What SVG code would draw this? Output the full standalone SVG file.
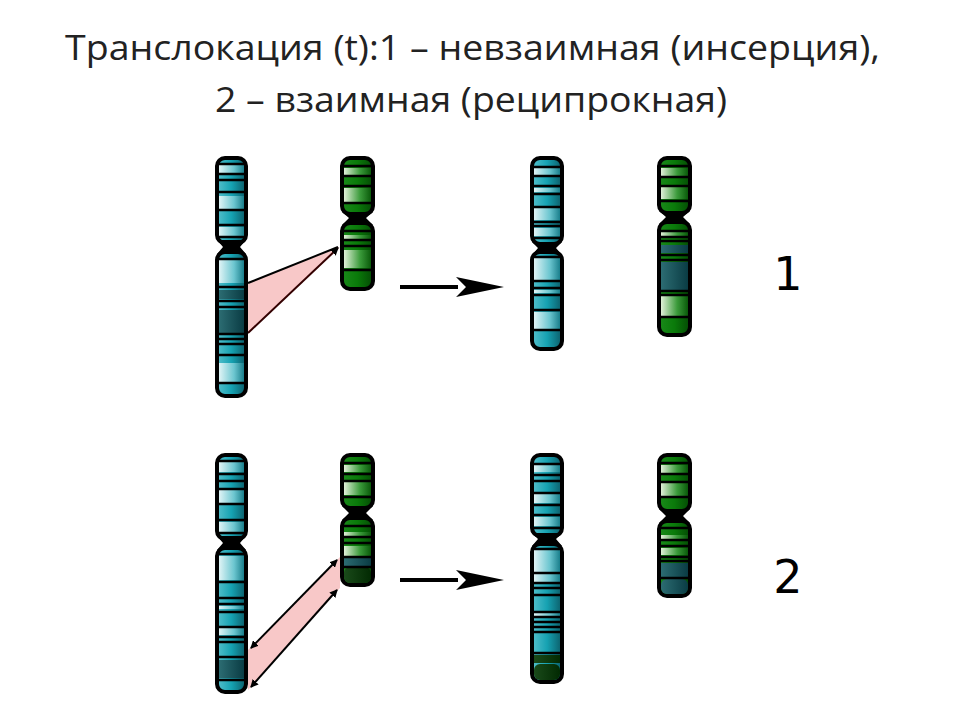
<svg xmlns="http://www.w3.org/2000/svg" width="960" height="720" viewBox="0 0 960 720">
<defs>
<linearGradient id="tl" x1="0" x2="1"><stop offset="0" stop-color="#55c0cc"/><stop offset="0.5" stop-color="#16a2b2"/><stop offset="1" stop-color="#0b5c68"/></linearGradient>
<linearGradient id="tlL" x1="0" x2="1"><stop offset="0" stop-color="#e0f4f6"/><stop offset="0.6" stop-color="#6cc6d0"/><stop offset="1" stop-color="#1a7f8c"/></linearGradient>
<linearGradient id="tlD" x1="0" x2="1"><stop offset="0" stop-color="#2c6c72"/><stop offset="1" stop-color="#0a3c44"/></linearGradient>
<linearGradient id="gr" x1="0" x2="1"><stop offset="0" stop-color="#1a8a1a"/><stop offset="0.5" stop-color="#0a7a0a"/><stop offset="1" stop-color="#044a04"/></linearGradient>
<linearGradient id="grL" x1="0" x2="1"><stop offset="0" stop-color="#e0f0d8"/><stop offset="0.6" stop-color="#3a9a3a"/><stop offset="1" stop-color="#0a5a0a"/></linearGradient>
<linearGradient id="grD" x1="0" x2="1"><stop offset="0" stop-color="#1a4a1a"/><stop offset="1" stop-color="#022a02"/></linearGradient>
<marker id="ah" markerWidth="8" markerHeight="8" refX="7" refY="4" orient="auto" markerUnits="userSpaceOnUse"><path d="M0,0 L8,4 L0,8 Z" fill="#000"/></marker>
<marker id="ahs" markerWidth="8" markerHeight="8" refX="1" refY="4" orient="auto" markerUnits="userSpaceOnUse"><path d="M8,0 L0,4 L8,8 Z" fill="#000"/></marker>
<marker id="big" markerWidth="48" markerHeight="24" refX="2" refY="12" orient="auto" markerUnits="userSpaceOnUse"><path d="M0,2 L48,12 L0,22 L10,12 Z" fill="#000"/></marker>
</defs>
<style>
.arm{stroke:#000;stroke-width:4}
.ln{stroke:#000;stroke-width:2.5}
.cen{fill:#000}
.t{font-family:"Open Sans","Liberation Sans",sans-serif;font-size:34px;fill:#222}
.num{font-family:"DejaVu Sans","Liberation Sans",sans-serif;font-size:46px;fill:#000}
</style>
<text class="t" x="65" y="60" textLength="815" lengthAdjust="spacingAndGlyphs">Транслокация (t):1 – невзаимная (инсерция),</text>
<text class="t" x="215" y="112" textLength="512" lengthAdjust="spacingAndGlyphs">2 – взаимная (реципрокная)</text>

<g id="connectors">
<polygon points="248,283 340,247 248,333" fill="#f8c8c8"/>
<line x1="248" y1="283" x2="338" y2="247" stroke="#000" stroke-width="2"/>
<line x1="248" y1="333" x2="338" y2="248" stroke="#300" stroke-width="2" marker-end="url(#ah)"/>
<polygon points="248,650 340,557 340,588 248,690" fill="#f8c8c8"/>
<line x1="251" y1="648" x2="337" y2="560" stroke="#000" stroke-width="2" marker-start="url(#ahs)" marker-end="url(#ah)"/>
<line x1="251" y1="687" x2="337" y2="590" stroke="#000" stroke-width="2" marker-start="url(#ahs)" marker-end="url(#ah)"/>
<line x1="400" y1="287" x2="458" y2="287" stroke="#000" stroke-width="4" marker-end="url(#big)"/>
<line x1="400" y1="580" x2="458" y2="580" stroke="#000" stroke-width="4" marker-end="url(#big)"/>
</g>

<g id="chrA1">
<rect class="arm" x="217" y="158" width="29" height="85" rx="8" fill="url(#tl)"/>
<rect x="219" y="165" width="25" height="9" fill="url(#tlL)"/>
<rect x="219" y="196" width="25" height="14" fill="url(#tlL)"/>
<rect x="219" y="227" width="25" height="10" fill="url(#tlL)"/>
<path class="ln" d="M219,164H244M219,174H244M219,180H244M219,192H244M219,210H244M219,225H244M219,237H244"/>
<polygon class="cen" points="217,240 246,240 240,247 246,254 217,254 223,247"/>
<rect class="arm" x="217" y="252" width="29" height="144" rx="8" fill="url(#tl)"/>
<rect x="219" y="260" width="25" height="23" fill="url(#tlL)"/>
<rect x="219" y="290" width="25" height="9" fill="url(#tlD)"/>
<rect x="219" y="310" width="25" height="24" fill="url(#tlD)"/>
<rect x="219" y="363" width="25" height="20" fill="url(#tlL)"/>
<path class="ln" d="M219,259H244M219,287H244M219,301H244M219,307H244M219,334H244M219,339H244M219,344H244M219,355H244M219,383H244"/>
</g>

<g id="chrB1">
<rect class="arm" x="342" y="158" width="31" height="56" rx="8" fill="url(#gr)"/>
<rect x="344" y="168" width="27" height="7" fill="url(#grL)"/>
<rect x="344" y="188" width="27" height="14" fill="url(#grL)"/>
<path class="ln" d="M344,166H371M344,176H371M344,186H371M344,203H371"/>
<polygon class="cen" points="342,212 373,212 366,218 373,225 342,225 349,218"/>
<rect class="arm" x="342" y="223" width="31" height="66" rx="8" fill="url(#gr)"/>
<rect x="344" y="235" width="27" height="4" fill="url(#grL)"/>
<rect x="344" y="250" width="27" height="18" fill="url(#grL)"/>
<path class="ln" d="M344,231H371M344,240H371M344,246H371M344,270H371"/>
</g>

<g id="chrC1">
<rect class="arm" x="532" y="158" width="30" height="86" rx="8" fill="url(#tl)"/>
<rect x="534" y="168" width="26" height="7" fill="url(#tlL)"/>
<rect x="534" y="188" width="26" height="4" fill="url(#tlL)"/>
<rect x="534" y="208" width="26" height="12" fill="url(#tlL)"/>
<rect x="534" y="228" width="26" height="8" fill="url(#tlL)"/>
<path class="ln" d="M534,167H560M534,176H560M534,186H560M534,194H560M534,207H560M534,222H560M534,226H560M534,238H560"/>
<polygon class="cen" points="532,242 562,242 556,248 562,255 532,255 538,248"/>
<rect class="arm" x="532" y="252" width="30" height="97" rx="8" fill="url(#tl)"/>
<rect x="534" y="258" width="26" height="22" fill="url(#tlL)"/>
<rect x="534" y="290" width="26" height="3" fill="url(#tlL)"/>
<rect x="534" y="312" width="26" height="17" fill="url(#tlL)"/>
<path class="ln" d="M534,257H560M534,281H560M534,288H560M534,295H560M534,310H560M534,330H560"/>
</g>

<g id="chrD1">
<rect class="arm" x="659" y="158" width="31" height="55" rx="8" fill="url(#gr)"/>
<rect x="661" y="168" width="27" height="8" fill="url(#grL)"/>
<rect x="661" y="187" width="27" height="12" fill="url(#grL)"/>
<path class="ln" d="M661,166H688M661,177H688M661,186H688M661,201H688"/>
<polygon class="cen" points="659,211 690,211 683,217 690,224 659,224 666,217"/>
<rect class="arm" x="659" y="222" width="31" height="113" rx="8" fill="url(#gr)"/>
<rect x="661" y="232" width="27" height="4" fill="url(#grL)"/>
<rect x="661" y="245" width="27" height="8" fill="url(#tlD)"/>
<rect x="661" y="262" width="27" height="28" fill="url(#tlD)"/>
<rect x="661" y="295" width="27" height="22" fill="url(#grL)"/>
<path class="ln" d="M661,231H688M661,237H688M661,241H688M661,255H688M661,260H688M661,291H688M661,295H688M661,317H688"/>
</g>

<g id="chrA2">
<rect class="arm" x="217" y="455" width="29" height="84" rx="8" fill="url(#tl)"/>
<rect x="219" y="462" width="25" height="10" fill="url(#tlL)"/>
<rect x="219" y="489" width="25" height="14" fill="url(#tlL)"/>
<rect x="219" y="522" width="25" height="10" fill="url(#tlL)"/>
<path class="ln" d="M219,461H244M219,474H244M219,481H244M219,489H244M219,504H244M219,520H244M219,533H244"/>
<polygon class="cen" points="217,536 246,536 240,543 246,550 217,550 223,543"/>
<rect class="arm" x="217" y="548" width="29" height="144" rx="8" fill="url(#tl)"/>
<rect x="219" y="556" width="25" height="24" fill="url(#tlL)"/>
<rect x="219" y="606" width="25" height="3" fill="url(#tlL)"/>
<rect x="219" y="628" width="25" height="7" fill="url(#tlL)"/>
<rect x="219" y="660" width="25" height="18" fill="url(#tlD)"/>
<path class="ln" d="M219,554H244M219,582H244M219,598H244M219,604H244M219,612H244M219,627H244M219,637H244M219,642H244M219,657H244M219,680H244"/>
</g>

<g id="chrB2">
<rect class="arm" x="342" y="455" width="31" height="53" rx="8" fill="url(#gr)"/>
<rect x="344" y="465" width="27" height="7" fill="url(#grL)"/>
<rect x="344" y="482" width="27" height="13" fill="url(#grL)"/>
<path class="ln" d="M344,463H371M344,474H371M344,481H371M344,497H371"/>
<polygon class="cen" points="342,506 373,506 366,513 373,520 342,520 349,513"/>
<rect class="arm" x="342" y="518" width="31" height="67" rx="8" fill="url(#gr)"/>
<rect x="344" y="532" width="27" height="4" fill="url(#grL)"/>
<rect x="344" y="546" width="27" height="14" fill="url(#grL)"/>
<rect x="344" y="558" width="27" height="8" fill="url(#tlD)"/>
<rect x="344" y="567" width="27" height="16" rx="6" fill="url(#grD)"/>
<path class="ln" d="M344,526H371M344,537H371M344,543H371M344,557H371M344,567H371"/>
</g>

<g id="chrC2">
<rect class="arm" x="532" y="455" width="30" height="81" rx="8" fill="url(#tl)"/>
<rect x="534" y="465" width="26" height="7" fill="url(#tlL)"/>
<rect x="534" y="493" width="26" height="10" fill="url(#tlL)"/>
<rect x="534" y="517" width="26" height="9" fill="url(#tlL)"/>
<path class="ln" d="M534,464H560M534,475H560M534,481H560M534,493H560M534,505H560M534,515H560M534,528H560"/>
<polygon class="cen" points="532,533 562,533 556,539 562,546 532,546 538,539"/>
<rect class="arm" x="532" y="544" width="30" height="138" rx="8" fill="url(#tl)"/>
<rect x="534" y="550" width="26" height="22" fill="url(#tlL)"/>
<rect x="534" y="574" width="26" height="8" fill="url(#tlL)"/>
<rect x="534" y="612" width="26" height="4" fill="url(#tlL)"/>
<rect x="534" y="655" width="26" height="8" fill="url(#grD)"/>
<rect x="534" y="664" width="26" height="16" rx="6" fill="url(#grD)"/>
<path class="ln" d="M534,549H560M534,573H560M534,583H560M534,588H560M534,595H560M534,612H560M534,617H560M534,622H560M534,627H560M534,632H560M534,653H560"/>
</g>

<g id="chrD2">
<rect class="arm" x="659" y="455" width="31" height="56" rx="8" fill="url(#gr)"/>
<rect x="661" y="465" width="27" height="8" fill="url(#grL)"/>
<rect x="661" y="483" width="27" height="13" fill="url(#grL)"/>
<path class="ln" d="M661,463H688M661,474H688M661,482H688M661,497H688"/>
<polygon class="cen" points="659,509 690,509 683,516 690,523 659,523 666,516"/>
<rect class="arm" x="659" y="521" width="31" height="75" rx="8" fill="url(#gr)"/>
<rect x="661" y="535" width="27" height="4" fill="url(#grL)"/>
<rect x="661" y="548" width="27" height="7" fill="url(#grL)"/>
<rect x="661" y="563" width="27" height="15" fill="url(#tlD)"/>
<rect x="661" y="579" width="27" height="15" rx="6" fill="url(#tlD)"/>
<path class="ln" d="M661,528H688M661,540H688M661,546H688M661,557H688M661,561H688M661,578H688"/>
</g>

<g id="labels">
<text class="num" x="788" y="290" text-anchor="middle">1</text>
<text class="num" x="788" y="593" text-anchor="middle">2</text>
</g>
</svg>
